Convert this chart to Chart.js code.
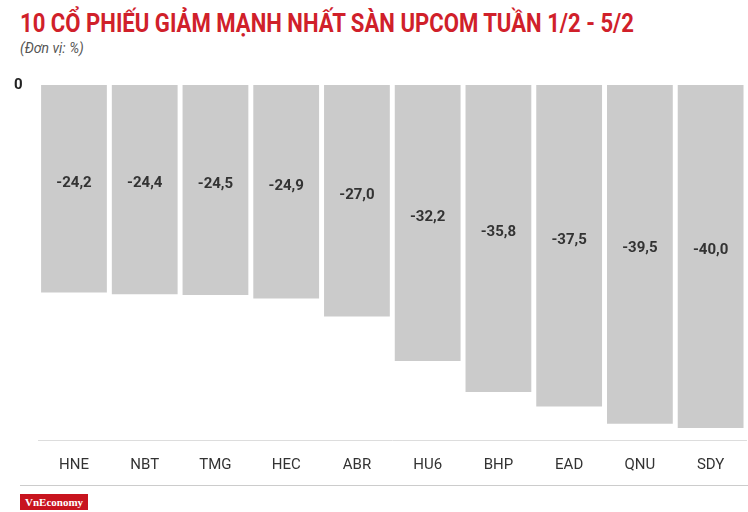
<!DOCTYPE html>
<html><head><meta charset="utf-8">
<script src="https://cdn.jsdelivr.net/npm/chart.js@4"></script>
<style>
body{margin:0;background:#fff;width:748px;height:512px;overflow:hidden;position:relative;font-family:Roboto,sans-serif}
#t{position:absolute;left:20px;top:8px;color:#d0202a;font-weight:bold;font-size:26px;white-space:nowrap;transform-origin:0 0;transform:scaleX(0.85)}
#s{position:absolute;left:20px;top:40px;color:#555;font-style:italic;font-size:14px}
#c{position:absolute;left:0;top:68px}
#hr{position:absolute;left:20px;top:485px;width:728px;height:1px;background:#ccc}
#logo{position:absolute;left:20px;top:494px;background:#c8141e;color:#fff;font:bold 11px "Liberation Serif",serif;padding:2px 5px}
</style></head><body>
<div id="t">10 CỔ PHIẾU GIẢM MẠNH NHẤT SÀN UPCOM TUẦN 1/2 - 5/2</div>
<div id="s">(Đơn vị: %)</div>
<canvas id="c" width="748" height="414"></canvas>
<div id="hr"></div>
<div id="logo">VnEconomy</div>
<script>
const categories=["HNE","NBT","TMG","HEC","ABR","HU6","BHP","EAD","QNU","SDY"];
const values=[-24.2,-24.4,-24.5,-24.9,-27.0,-32.2,-35.8,-37.5,-39.5,-40.0];
const yTicks=[0];
const F='Roboto,sans-serif';
const lbl={id:'lbl',afterDatasetsDraw(ch){const c=ch.ctx;const m=ch.getDatasetMeta(0);c.save();c.font='bold 15px '+F;c.fillStyle='#333';c.textAlign='center';c.textBaseline='middle';
m.data.forEach((b,i)=>{c.fillText(values[i].toFixed(1).replace('.',','),b.x,(b.y+b.base)/2-6);});c.restore();}};
new Chart(document.getElementById('c'),{type:'bar',data:{labels:categories,datasets:[{data:values,backgroundColor:'#cbcbcb',barPercentage:0.93,categoryPercentage:1}]},
options:{responsive:false,animation:false,layout:{padding:{top:10,right:2,left:6}},plugins:{legend:{display:false},tooltip:{enabled:false}},
scales:{x:{grid:{display:false},border:{color:'#ddd'},ticks:{color:'#333',font:{family:F,size:15},padding:8}},
y:{min:-41.4,max:0,afterBuildTicks(a){a.ticks=yTicks.map(v=>({value:v}));},grid:{display:false},border:{display:false},ticks:{color:'#222',font:{family:F,size:15,weight:'bold'},padding:8}}}},
plugins:[lbl]});
</script></body></html>
